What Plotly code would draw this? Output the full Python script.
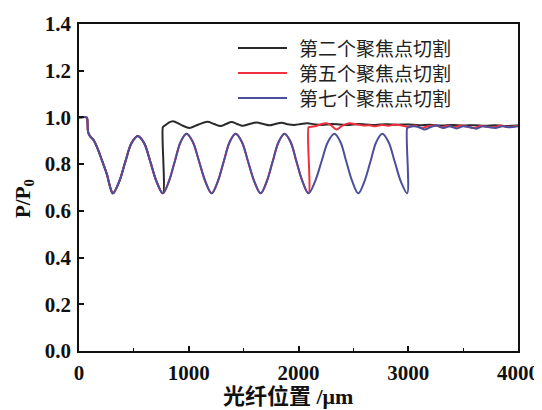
import plotly.graph_objects as go

# ---- data ----
series_names = ["第二个聚焦点切割", "第五个聚焦点切割", "第七个聚焦点切割"]
series_colors = ["#2a2a2a", "#f0303c", "#4b4f9c"]

# common start (all three identical until their cut)
x_start = [0, 70, 76, 84, 100, 130, 164, 210, 255, 285, 309]
y_start = [1.0, 1.0, 0.99, 0.935, 0.92, 0.905, 0.873, 0.815, 0.755, 0.70, 0.675]

# oscillation of the 7th-focus curve (min/peak cycle)
x_osc = [366, 422, 479, 536, 593, 650, 707, 764,
         818, 872, 926, 980, 1037, 1095, 1152, 1209,
         1264, 1318, 1373, 1427, 1484, 1541, 1598, 1655,
         1710, 1764, 1819, 1873, 1928, 1982, 2037, 2091,
         2150, 2209, 2268, 2327, 2382, 2436, 2491, 2545,
         2600, 2655, 2709, 2764, 2820, 2877, 2933, 2990]
y_osc = [0.725, 0.81, 0.89, 0.92, 0.89, 0.81, 0.725, 0.675,
         0.725, 0.81, 0.895, 0.93, 0.895, 0.81, 0.725, 0.675,
         0.725, 0.81, 0.895, 0.93, 0.895, 0.81, 0.725, 0.675,
         0.725, 0.81, 0.895, 0.93, 0.895, 0.81, 0.725, 0.675,
         0.725, 0.81, 0.895, 0.93, 0.895, 0.81, 0.725, 0.675,
         0.725, 0.81, 0.895, 0.93, 0.895, 0.81, 0.725, 0.675]

# after-cut tails
x_tail2 = [764, 772, 810, 855, 930, 1009, 1090, 1170, 1230, 1290, 1340, 1391, 1440,
           1491, 1555, 1618, 1680, 1736, 1790, 1845, 1900, 1960, 2020, 2080,
           2150, 2220, 2300, 2380, 2460, 2540, 2620, 2700, 2800, 2900, 3000,
           3100, 3200, 3300, 3400, 3500, 3600, 3700, 3800, 3900, 4000]
y_tail2 = [0.958, 0.962, 0.975, 0.984, 0.968, 0.955, 0.97, 0.981, 0.972, 0.963, 0.972, 0.98, 0.972,
           0.964, 0.972, 0.978, 0.972, 0.966, 0.972, 0.977, 0.971, 0.968, 0.972, 0.975,
           0.97, 0.968, 0.972, 0.97, 0.968, 0.972, 0.97, 0.968, 0.971, 0.969, 0.97,
           0.967, 0.969, 0.965, 0.968, 0.965, 0.967, 0.964, 0.966, 0.963, 0.965]

x_tail5 = [2091, 2099, 2150, 2200, 2255, 2300, 2345, 2400, 2464, 2530, 2600, 2645, 2700,
           2760, 2820, 2880, 2940, 3000, 3060, 3120, 3180, 3240, 3300, 3360, 3420,
           3480, 3540, 3600, 3660, 3720, 3780, 3840, 3900, 3960, 4000]
y_tail5 = [0.958, 0.959, 0.962, 0.97, 0.975, 0.965, 0.948, 0.965, 0.975, 0.97, 0.965, 0.967, 0.962,
           0.968, 0.964, 0.97, 0.965, 0.96, 0.965, 0.955, 0.962, 0.967, 0.958, 0.964, 0.958,
           0.965, 0.96, 0.955, 0.963, 0.96, 0.958, 0.965, 0.96, 0.962, 0.965]

x_tail7 = [2990, 2998, 3050, 3100, 3150, 3200, 3260, 3320, 3380, 3440, 3500, 3560,
           3620, 3680, 3740, 3800, 3860, 3920, 4000]
y_tail7 = [0.955, 0.957, 0.962, 0.958, 0.948, 0.958, 0.965, 0.955, 0.962, 0.953, 0.962, 0.958,
           0.952, 0.962, 0.958, 0.955, 0.962, 0.958, 0.962]

x_ticks = [0, 1000, 2000, 3000, 4000]
y_ticks = [0.0, 0.2, 0.4, 0.6, 0.8, 1.0, 1.2, 1.4]

x_title = "光纤位置 /μm"
y_title = "P/P<sub>0</sub>"

# ---- assemble series ----
def upto(xs, ys, xcut):
    px, py = [], []
    for a, b in zip(xs, ys):
        if a <= xcut:
            px.append(a)
            py.append(b)
    return px, py

xo_all = x_start + x_osc
yo_all = y_start + y_osc

x2a, y2a = upto(xo_all, yo_all, 764)
x5a, y5a = upto(xo_all, yo_all, 2091)
x7a, y7a = xo_all, yo_all

xs_list = [x2a + x_tail2, x5a + x_tail5, x7a + x_tail7]
ys_list = [y2a + y_tail2, y5a + y_tail5, y7a + y_tail7]

fig = go.Figure()
for name, col, xs, ys in zip(series_names, series_colors, xs_list, ys_list):
    fig.add_trace(go.Scatter(
        x=xs, y=ys, mode="lines", name=name, showlegend=False,
        line=dict(color=col, width=2, shape="spline", smoothing=1.0),
    ))

# page body has an 8px margin, so the figure is sized to fill the rest of the window
OFF = 8
W, H = 542 - OFF, 410 - OFF
L, T = 79 - OFF, 24 - OFF
pw, ph = 439, 327
R, B = W - L - pw, H - T - ph

def px_x(p):  # window pixel -> paper x
    return (p - OFF - L) / pw
def px_y(p):  # window pixel -> paper y
    return (H - B - (p - OFF)) / ph

legend_rows = [47, 72, 97]
for name, col, yy in zip(series_names, series_colors, legend_rows):
    fig.add_shape(type="line", xref="paper", yref="paper",
                  x0=px_x(238), x1=px_x(287), y0=px_y(yy + 1), y1=px_y(yy + 1),
                  line=dict(color=col, width=2))
    fig.add_annotation(xref="paper", yref="paper", x=px_x(297), y=px_y(yy),
                       xanchor="left", yanchor="middle", showarrow=False,
                       text=name,
                       font=dict(family="Noto Sans CJK SC", size=19, color="#222"))

# axis titles
fig.add_annotation(xref="paper", yref="paper", x=px_x(288), y=px_y(396),
                   xanchor="center", yanchor="middle", showarrow=False, text=x_title,
                   font=dict(family="Liberation Serif, Noto Sans CJK SC", size=22,
                             color="#111", weight="bold"))
fig.add_annotation(xref="paper", yref="paper", x=px_x(24), y=px_y(198),
                   xanchor="center", yanchor="middle", showarrow=False, text=y_title,
                   textangle=-90,
                   font=dict(family="Liberation Serif", size=21, color="#111",
                             weight="bold"))

tick_font = dict(family="Liberation Serif", size=21, color="#111", weight="bold")

fig.update_layout(
    width=W, height=H,
    margin=dict(l=L, r=R, t=T, b=B),
    paper_bgcolor="white", plot_bgcolor="white",
    showlegend=False,
    xaxis=dict(
        range=[0, 4000], tickvals=x_ticks, ticks="inside", ticklen=5,
        tickwidth=1.5, tickcolor="#111", automargin=False, ticklabelstandoff=2,
        minor=dict(dtick=500, ticks="inside", ticklen=3, tickwidth=1.2, tickcolor="#111"),
        showline=True, linecolor="#111", linewidth=1.5, mirror=True,
        showgrid=False, zeroline=False, tickfont=tick_font,
    ),
    yaxis=dict(
        range=[0, 1.4], tickvals=y_ticks, tickformat=".1f", ticks="inside", ticklen=5,
        tickwidth=1.5, tickcolor="#111", automargin=False, ticklabelstandoff=2,
        showline=True, linecolor="#111", linewidth=1.5, mirror=True,
        showgrid=False, zeroline=False, tickfont=tick_font,
    ),
)

fig.write_html("out.html")
